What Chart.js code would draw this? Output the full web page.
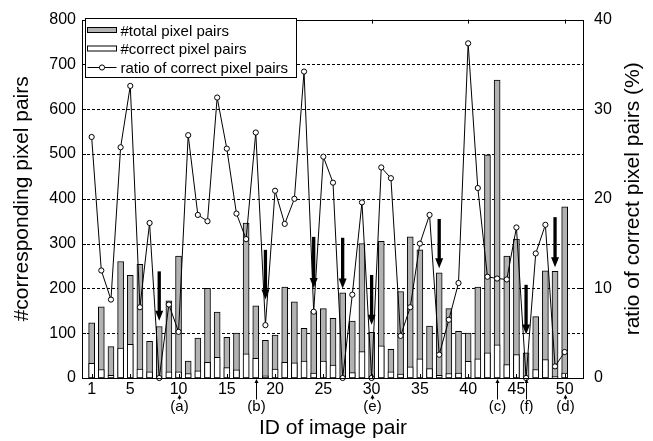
<!DOCTYPE html>
<html>
<head>
<meta charset="utf-8">
<script src="https://cdn.jsdelivr.net/npm/chart.js@4"></script>
<style>
html,body{margin:0;padding:0;background:#fff;}
#wrap{width:653px;height:441px;position:relative;}
canvas{display:block;}
</style>
</head>
<body>
<div id="wrap"><canvas id="c" width="653" height="441"></canvas></div>
<script>
// ---------- data ----------
const imageIds = [1,2,3,4,5,6,7,8,9,10,11,12,13,14,15,16,17,18,19,20,21,22,23,24,25,26,27,28,29,30,31,32,33,34,35,36,37,38,39,40,41,42,43,44,45,46,47,48,49,50];
const totalPairs = [123,159,70,260,229,254,82,115,172,272, 38,89,200,147,91,100,346,161,84,96, 203,170,111,149,155,133,190,127,300,102, 305,64,193,315,286,116,235,155,104,100, 203,498,665,272,310,56,137,239,238,382];
const correctPairs = [33,19,6,67,75,20,14,0,14,14, 10,16,35,46,23,18,54,44,5,20, 35,34,38,11,38,29,0,12,59,0, 72,14,9,25,43,21,6,10,11,37, 43,56,74,30,52,0,19,41,3,11];
const correctRatio = [26.9,12.0,8.75,25.75,32.6,7.9,17.3,0,8.2,5.15, 27.1,18.2,17.5,31.3,25.6,18.35,15.5,27.4,5.9,20.9, 17.2,20.0,34.2,7.4,24.7,21.8,0,9.3,19.6,0, 23.5,22.3,4.7,7.9,15.0,18.2,2.6,6.5,10.6,37.35, 21.2,11.3,11.1,11.0,16.8,0,13.9,17.1,1.3,2.9];
const xTickLabels = [1,5,10,15,20,25,30,35,40,45,50];
const topTickValues = [10,20,30,40,50];
const arrowIds = [8,19,24,27,30,37,46,49];
const arrowFrom = [238,286,315,313,230,355,208,359];
const arrowTo = [128,175,201,200,119,245,97,247];
const noteIds = [10,18,30,43,46,50];
const noteLabels = ['(a)','(b)','(e)','(c)','(f)','(d)'];
const seriesNames = ['#total pixel pairs','#correct pixel pairs','ratio of correct pixel pairs'];
const leftTitle = '#corresponding pixel pairs';
const rightTitle = 'ratio of correct pixel pairs (%)';
const bottomTitle = 'ID of image pair';

const FONT = '"Liberation Sans", Arial, Helvetica, sans-serif';
const GRAY = '#b2b2b2';
Chart.defaults.font.family = FONT;
Chart.defaults.color = '#000';

function arrowDown(ctx, x, yTop, yTip) {
  const headLen = 10, headW = 8, shaftW = 3.3;
  ctx.fillStyle = '#000';
  ctx.fillRect(x - shaftW/2, yTop, shaftW, (yTip - headLen) - yTop + 1);
  ctx.beginPath();
  ctx.moveTo(x - headW/2, yTip - headLen);
  ctx.lineTo(x + headW/2, yTip - headLen);
  ctx.lineTo(x, yTip);
  ctx.closePath();
  ctx.fill();
}

const decor = {
  id: 'decor',
  beforeDatasetsDraw(chart) {
    const {ctx, chartArea: a, scales} = chart;
    const y = scales.y;
    ctx.save();
    ctx.strokeStyle = '#000';
    ctx.lineWidth = 1;
    ctx.setLineDash([3, 2]);
    y.ticks.forEach(t => {
      if (t.value <= y.min || t.value >= y.max) return;
      const py = Math.round(y.getPixelForValue(t.value)) + 0.5;
      ctx.beginPath();
      ctx.moveTo(a.left, py);
      ctx.lineTo(a.right, py);
      ctx.stroke();
    });
    ctx.restore();
  },
  afterDatasetsDraw(chart) {
    const {ctx, chartArea: a, scales} = chart;
    const x = scales.x, y = scales.y, y2 = scales.y2;
    ctx.save();
    // frame
    ctx.strokeStyle = '#000';
    ctx.lineWidth = 1;
    ctx.setLineDash([]);
    ctx.strokeRect(Math.round(a.left) + 0.5, Math.round(a.top) + 0.5, Math.round(a.right - a.left) - 1, Math.round(a.bottom - a.top));
    // tick marks (inward)
    const TL = 4;
    ctx.beginPath();
    y.ticks.forEach(t => {
      const py = Math.round(y.getPixelForValue(t.value)) + 0.5;
      ctx.moveTo(a.left, py); ctx.lineTo(a.left + TL, py);
    });
    y2.ticks.forEach(t => {
      const py = Math.round(y2.getPixelForValue(t.value)) + 0.5;
      ctx.moveTo(a.right, py); ctx.lineTo(a.right - TL, py);
    });
    xTickLabels.forEach(v => {
      const px = Math.round(x.getPixelForValue(v)) + 0.5;
      ctx.moveTo(px, a.bottom); ctx.lineTo(px, a.bottom - TL);
    });
    topTickValues.forEach(v => {
      const px = Math.round(x.getPixelForValue(v)) + 0.5;
      ctx.moveTo(px, a.top); ctx.lineTo(px, a.top + TL);
    });
    ctx.stroke();

    // thick black arrows
    arrowIds.forEach((id, i) => {
      arrowDown(ctx, x.getPixelForValue(id), y.getPixelForValue(arrowFrom[i]), y.getPixelForValue(arrowTo[i]));
    });

    // annotations under the axis
    ctx.font = '15px ' + FONT;
    ctx.textAlign = 'center';
    ctx.textBaseline = 'alphabetic';
    ctx.fillStyle = '#000';
    noteIds.forEach((id, i) => {
      const px = Math.round(x.getPixelForValue(id)) + 0.5;
      ctx.fillText(noteLabels[i], px, 411);
      const hasLabel = xTickLabels.includes(id);
      const yBot = 399.5;
      const yTop = hasLabel ? 394.5 : a.bottom + 1;
      ctx.beginPath();
      ctx.moveTo(px, yBot);
      ctx.lineTo(px, yTop + 3);
      ctx.stroke();
      ctx.beginPath();
      ctx.moveTo(px - 2, yTop + 4);
      ctx.lineTo(px + 2, yTop + 4);
      ctx.lineTo(px, yTop);
      ctx.closePath();
      ctx.fill();
    });

    // right axis title (reads bottom to top)
    ctx.save();
    ctx.font = '21px ' + FONT;
    ctx.translate(639, (a.top + a.bottom) / 2);
    ctx.rotate(-Math.PI / 2);
    ctx.textAlign = 'center';
    ctx.textBaseline = 'alphabetic';
    ctx.fillText(rightTitle, 0, 0);
    ctx.restore();

    // legend box
    const lx = 85.5, ly = 18.5, lw = 211, lh = 59;
    ctx.fillStyle = '#fff';
    ctx.fillRect(lx, ly, lw, lh);
    ctx.strokeStyle = '#000';
    ctx.lineWidth = 1;
    ctx.strokeRect(lx, ly, lw, lh);
    const baselines = [35.5, 54, 72.5];
    // symbols
    ctx.fillStyle = GRAY;
    ctx.fillRect(87.5, 27.5, 29, 5);
    ctx.strokeRect(87.5, 27.5, 29, 5);
    ctx.fillStyle = '#fff';
    ctx.fillRect(87.5, 46, 29, 5);
    ctx.strokeRect(87.5, 46, 29, 5);
    ctx.beginPath();
    ctx.moveTo(87.5, 67.5); ctx.lineTo(116.5, 67.5);
    ctx.stroke();
    ctx.beginPath();
    ctx.arc(102, 67.5, 2.6, 0, Math.PI * 2);
    ctx.fillStyle = '#fff';
    ctx.fill();
    ctx.stroke();
    // texts
    ctx.fillStyle = '#000';
    ctx.font = '15px ' + FONT;
    ctx.textAlign = 'left';
    ctx.textBaseline = 'alphabetic';
    seriesNames.forEach((n, i) => ctx.fillText(n, 120.5, baselines[i]));
    ctx.restore();
  }
};

new Chart(document.getElementById('c'), {
  type: 'bar',
  data: {
    datasets: [
      {
        type: 'line',
        label: seriesNames[2],
        data: imageIds.map((id, i) => ({x: id, y: correctRatio[i]})),
        yAxisID: 'y2',
        borderColor: '#000',
        borderWidth: 1,
        pointRadius: 2.6,
        pointBackgroundColor: '#fff',
        pointBorderColor: '#000',
        pointBorderWidth: 1,
        tension: 0,
        fill: false,
        clip: false,
        order: 0
      },
      {
        label: seriesNames[1],
        data: imageIds.map((id, i) => ({x: id, y: correctPairs[i]})),
        yAxisID: 'y',
        backgroundColor: '#fff',
        borderColor: '#000',
        borderWidth: 1,
        borderSkipped: false,
        barThickness: 6,
        grouped: false,
        order: 1
      },
      {
        label: seriesNames[0],
        data: imageIds.map((id, i) => ({x: id, y: totalPairs[i]})),
        yAxisID: 'y',
        backgroundColor: GRAY,
        borderColor: '#000',
        borderWidth: 1,
        borderSkipped: false,
        barThickness: 6,
        grouped: false,
        order: 2
      }
    ]
  },
  options: {
    responsive: false,
    animation: false,
    devicePixelRatio: 1,
    layout: {padding: {top: 15, left: 0, right: 0, bottom: 0}},
    plugins: {legend: {display: false}, tooltip: {enabled: false}},
    scales: {
      x: {
        type: 'linear',
        min: 0,
        max: 52,
        offset: false,
        grid: {display: false, drawTicks: false},
        border: {display: false},
        afterBuildTicks: s => { s.ticks = xTickLabels.map(v => ({value: v})); },
        afterFit: s => { s.height = 63; },
        ticks: {autoSkip: false, maxRotation: 0, minRotation: 0, padding: 2, font: {size: 16}, color: '#000', callback: v => String(v)},
        title: {display: true, text: bottomTitle, font: {size: 21}, color: '#000', padding: {top: 0, bottom: 0}}
      },
      y: {
        position: 'left',
        min: 0,
        max: 800,
        ticks: {stepSize: 100, padding: 6, font: {size: 16}, color: '#000'},
        grid: {display: false, drawTicks: false},
        border: {display: false},
        afterFit: s => { s.width = 82; },
        title: {display: true, text: leftTitle, font: {size: 21}, color: '#000', padding: {top: 10, bottom: 0}}
      },
      y2: {
        position: 'right',
        min: 0,
        max: 40,
        ticks: {stepSize: 10, padding: 10, font: {size: 16}, color: '#000'},
        grid: {display: false, drawTicks: false},
        border: {display: false},
        afterFit: s => { s.width = 69; }
      }
    }
  },
  plugins: [decor]
});
</script>
</body>
</html>
